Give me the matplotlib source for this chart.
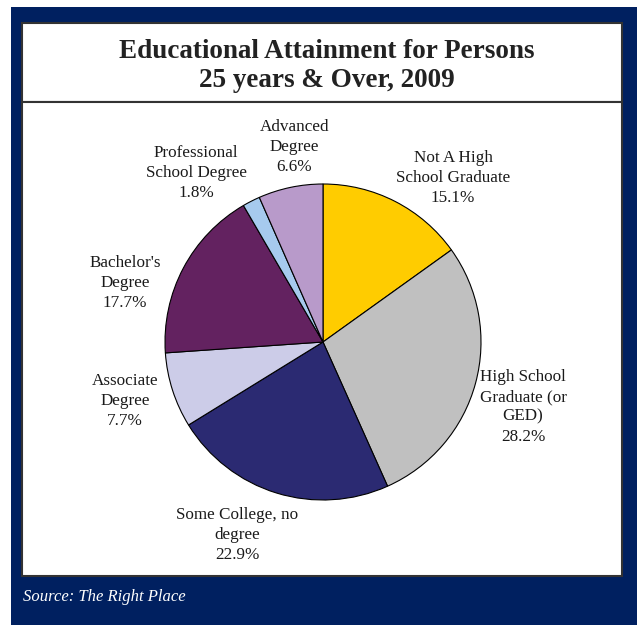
import matplotlib
matplotlib.use("Agg")
import matplotlib.pyplot as plt
from matplotlib.patches import Rectangle

categories = ["Not A High\nSchool Graduate", "High School\nGraduate (or\nGED)",
              "Some College, no\ndegree", "Associate\nDegree", "Bachelor's\nDegree",
              "Professional\nSchool Degree", "Advanced\nDegree"]
values = [15.1, 28.2, 22.9, 7.7, 17.7, 1.8, 6.6]
colors = ["#FFCC00", "#C0C0C0", "#2B2A72", "#CCCCE8", "#632260", "#A6CAEE", "#B89ACA"]
title = "Educational Attainment for Persons\n25 years & Over, 2009"
source = "Source: The Right Place"

W, H = 637, 625
fig = plt.figure(figsize=(W / 100, H / 100), dpi=100)
fig.patch.set_facecolor("white")

def px_rect(x0, y0, x1, y1, **kw):
    return Rectangle((x0 / W, 1 - y1 / H), (x1 - x0) / W, (y1 - y0) / H,
                     transform=fig.transFigure, **kw)

navy = "#002060"
fig.patches.append(px_rect(11, 7, 637, 625, facecolor=navy, edgecolor="none", zorder=0))
fig.patches.append(px_rect(22, 23, 622, 102, facecolor="white", edgecolor="#333333", linewidth=1.5, zorder=1))
fig.patches.append(px_rect(22, 102, 622, 576, facecolor="white", edgecolor="#333333", linewidth=1.5, zorder=1))

fig.text(327 / W, 1 - 66 / H, title, ha="center", va="center", fontsize=19.5,
         fontweight="bold", family="Liberation Serif", color="#222222", linespacing=1.25)
fig.text(23 / W, 1 - 597 / H, source, ha="left", va="center", fontsize=12,
         style="italic", family="Liberation Serif", color="white")

# pie axes: center (323,342) px, radius 158 px
cx, cy, R, half = 323, 342, 158, 200
ax = fig.add_axes([(cx - half) / W, (H - cy - half) / H, 2 * half / W, 2 * half / H])
ax.set_zorder(5)
ax.pie(values, colors=colors, startangle=90, counterclock=False, radius=1,
       wedgeprops=dict(edgecolor="black", linewidth=0.8))
ax.set_xlim(-half / R, half / R)
ax.set_ylim(-half / R, half / R)
ax.axis("off")

label_pos = [(0.823, 1.038), (1.266, -0.411), (-0.544, -1.221), (-1.253, -0.373),
             (-1.253, 0.374), (-0.803, 1.070), (-0.183, 1.235)]
for lab, v, (x, y) in zip(categories, values, label_pos):
    ax.text(x, y, f"{lab}\n{v:.1f}%", ha="center", va="center", fontsize=12.3,
            family="Liberation Serif", color="#1a1a1a", linespacing=1.32)

fig.savefig("out.png", dpi=100)
